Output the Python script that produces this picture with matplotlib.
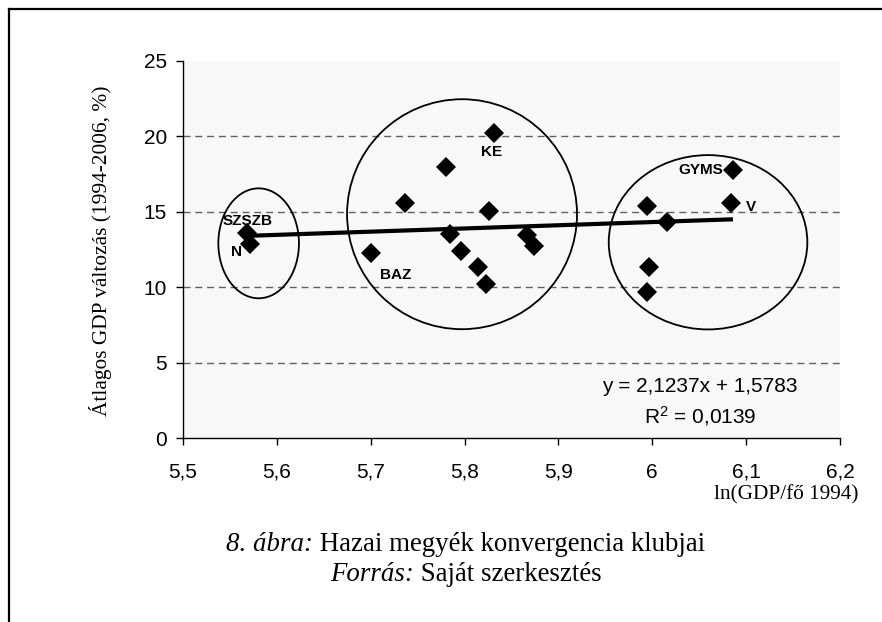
import matplotlib
matplotlib.use("Agg")
import matplotlib.pyplot as plt
from matplotlib.patches import Ellipse
from matplotlib.lines import Line2D
import numpy as np

plt.rcParams['font.family'] = ['Liberation Sans', 'DejaVu Sans']
plt.rcParams['mathtext.fontset'] = 'custom'
plt.rcParams['mathtext.rm'] = 'Liberation Sans'
plt.rcParams['mathtext.it'] = 'Liberation Sans:italic'

# ---- data ----
ln_gdp = [5.568, 5.571, 5.700, 5.736, 5.780, 5.784, 5.796, 5.814, 5.823, 5.826,
          5.831, 5.866, 5.874, 5.994, 5.996, 5.994, 6.016, 6.084, 6.086]
growth = [13.57, 12.86, 12.25, 15.56, 18.0, 13.5, 12.42, 11.36, 10.21, 15.05,
          20.2, 13.46, 12.73, 15.38, 11.36, 9.70, 14.32, 15.6, 17.77]
labels = ['SZSZB', 'N', 'BAZ', '', '', '', '', '', '', '',
          'KE', '', '', '', '', '', '', 'V', 'GYMS']
label_offsets = {'SZSZB': (1, 12), 'N': (-13, -8), 'BAZ': (25, -22),
                 'KE': (-2, -19), 'GYMS': (-32, 0), 'V': (20, -4)}
slope, intercept = 2.1237, 1.5783
r2 = 0.0139
# clubs: (center x, center y, width, height) in data units
clubs_cx = [5.5806, 5.7973, 6.0594]
clubs_cy = [12.91, 14.84, 12.98]
clubs_w = [0.0859, 0.245, 0.2116]
clubs_h = [7.29, 15.25, 11.56]
xticks = [5.5, 5.6, 5.7, 5.8, 5.9, 6.0, 6.1, 6.2]
xticklabels = ['5,5', '5,6', '5,7', '5,8', '5,9', '6', '6,1', '6,2']
yticks = [0, 5, 10, 15, 20, 25]

W, H = 882, 622
fig = plt.figure(figsize=(W / 100, H / 100), dpi=100)
ax = fig.add_axes([183 / W, (H - 438) / H, (840 - 183) / W, (438 - 61) / H])
ax.set_facecolor('#f8f8f8')
ax.set_xlim(5.5, 6.2)
ax.set_ylim(0, 25)

for yv in yticks[1:-1]:
    ax.axhline(yv, color='#606060', lw=1.0, ls=(0, (5, 3.5)), zorder=1)

ax.plot(ln_gdp, growth, ls='none', marker='D', ms=10, mfc='black',
        mec='black', mew=0, zorder=4)

xs = np.array([min(ln_gdp), max(ln_gdp)])
ax.plot(xs, slope * xs + intercept, color='black', lw=3, zorder=3,
        solid_capstyle='butt')

for cx, cy, w, h in zip(clubs_cx, clubs_cy, clubs_w, clubs_h):
    ax.add_patch(Ellipse((cx, cy), w, h, fill=False, ec='black', lw=1.3, zorder=2))

for x, y, lab in zip(ln_gdp, growth, labels):
    if lab:
        dx, dy = label_offsets[lab]
        ax.annotate(lab, (x, y), xytext=(dx, dy), textcoords='offset pixels',
                    ha='center', va='center', fontsize=11, fontweight='bold', zorder=5)

ax.set_xticks(xticks)
ax.set_xticklabels(xticklabels)
ax.set_yticks(yticks)
ax.tick_params(axis='both', labelsize=15, direction='out', length=5, width=1,
               color='black')
ax.tick_params(axis='x', pad=13)
ax.tick_params(axis='y', pad=6.5)
for s in ['top', 'right']:
    ax.spines[s].set_visible(False)
for s in ['left', 'bottom']:
    ax.spines[s].set_linewidth(1.0)

ax.text(700 / W, (H - 387) / H, 'y = 2,1237x + 1,5783', transform=fig.transFigure,
        ha='center', va='center', fontsize=15)
ax.text(700 / W, (H - 416) / H, 'R$^{2}$ = 0,0139', transform=fig.transFigure,
        ha='center', va='center', fontsize=15)

serif = ['Liberation Serif', 'DejaVu Serif']
fig.text(101 / W, (H - 251) / H, 'Átlagos GDP változás (1994-2006, %)',
         rotation=90, ha='center', va='center', fontsize=15.4, family=serif)
fig.text(858 / W, (H - 495) / H, 'ln(GDP/fő 1994)', ha='right', va='center',
         fontsize=15.3, family=serif)

t1 = fig.text(226 / W, (H - 551) / H, '8. ábra:', ha='left', va='baseline',
              fontsize=19.4, family=serif, style='italic')
ax.annotate(' Hazai megyék konvergencia klubjai', xy=(1, 0), xycoords=t1,
            va='bottom', ha='left', fontsize=19.4, family=serif, annotation_clip=False)
t2 = fig.text(330 / W, (H - 581) / H, 'Forrás:', ha='left', va='baseline',
              fontsize=19.4, family=serif, style='italic')
ax.annotate(' Saját szerkesztés', xy=(1, 0), xycoords=t2,
            va='bottom', ha='left', fontsize=19.4, family=serif, annotation_clip=False)

# outer frame (top and left visible)
fig.add_artist(Line2D([8.7 / W, 1], [(H - 8.7) / H] * 2, transform=fig.transFigure,
                      color='black', lw=1.6))
fig.add_artist(Line2D([8.7 / W] * 2, [0, (H - 8.7) / H], transform=fig.transFigure,
                      color='black', lw=1.6))

fig.savefig('out.png', dpi=100)
